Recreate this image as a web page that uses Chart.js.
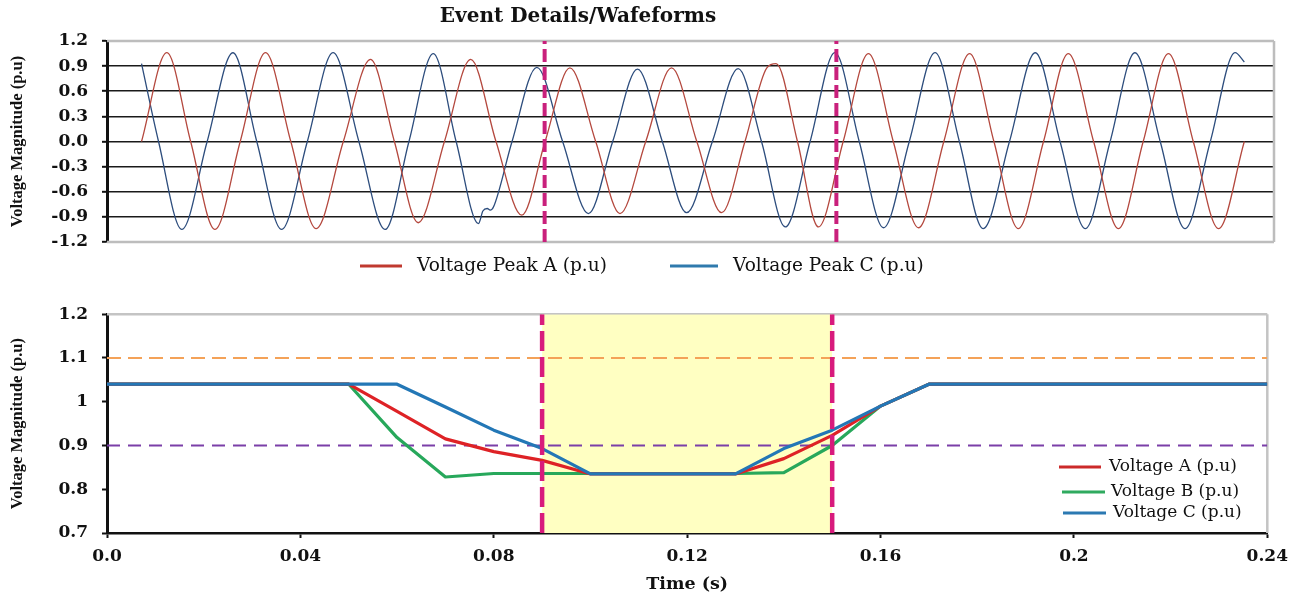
<!DOCTYPE html>
<html>
<head>
<meta charset="utf-8">
<title>Event Details/Wafeforms</title>
<script src="https://cdn.jsdelivr.net/npm/chart.js@4.4.1/dist/chart.umd.min.js"></script>
<style>
  html, body { margin: 0; padding: 0; background: #fff; }
  #wrap { position: relative; width: 1296px; height: 595px; overflow: hidden; }
  #wave { position: absolute; left: 0; top: 0; }
  #rms { position: absolute; left: 0; top: 290px; }
</style>
</head>
<body>
<div id="wrap">
  <canvas id="wave" width="1296" height="290"></canvas>
  <canvas id="rms" width="1296" height="305"></canvas>
</div>
<script>
// Instantaneous waveform, phase A: time (s) and voltage (p.u) at crests, troughs and zero crossings
const timeA = [0.0071, 0.0123, 0.0172, 0.0222, 0.0274, 0.0326, 0.0378, 0.0430, 0.0486, 0.0542,
  0.0591, 0.0640, 0.0694, 0.0748, 0.0800, 0.0853, 0.0901, 0.0952, 0.1005, 0.1055,
  0.1108, 0.1161, 0.1213, 0.1264, 0.1312, 0.1357, 0.1376, 0.1420, 0.1463, 0.1514,
  0.1566, 0.1617, 0.1669, 0.1721, 0.1774, 0.1824, 0.1874, 0.1926, 0.1977, 0.2029,
  0.2080, 0.2131, 0.2183, 0.2234, 0.2286, 0.2339];
const voltPeakA = [0, 1.06, 0, -1.05, 0, 1.06, 0, -1.04, 0, 0.98,
  0, -0.97, 0, 0.98, 0, -0.88, 0, 0.88, 0, -0.86,
  0, 0.88, 0, -0.85, 0, 0.88, 0.93, 0, -1.02, 0,
  1.05, 0, -1.03, 0, 1.05, 0, -1.04, 0, 1.05, 0,
  -1.04, 0, 1.05, 0, -1.04, 0];

// Instantaneous waveform, phase C
const timeC = [0.0071, 0.0106, 0.0154, 0.0206, 0.0259, 0.0308, 0.0359, 0.0412, 0.0465, 0.0518,
  0.0572, 0.0621, 0.0671, 0.0718, 0.0764, 0.0773, 0.0782, 0.0788, 0.0795, 0.0833,
  0.0884, 0.0937, 0.0990, 0.1040, 0.1091, 0.1142, 0.1192, 0.1245, 0.1298, 0.1346,
  0.1395, 0.1446, 0.1497, 0.1547, 0.1597, 0.1650, 0.1703, 0.1753, 0.1802, 0.1856,
  0.1909, 0.1960, 0.2012, 0.2063, 0.2114, 0.2166, 0.2217, 0.2269, 0.2320, 0.2339];
const voltPeakC = [0.93, 0, -1.05, 0, 1.06, 0, -1.05, 0, 1.06, 0,
  -1.05, 0, 1.05, 0, -0.98, -0.83, -0.80, -0.82, -0.78, 0,
  0.885, 0, -0.86, 0, 0.865, 0, -0.85, 0, 0.87, 0,
  -1.02, 0, 1.06, 0, -1.03, 0, 1.06, 0, -1.04, 0,
  1.06, 0, -1.04, 0, 1.06, 0, -1.04, 0, 1.06, 0.95];

// RMS magnitude per phase, one value every 10 ms
const rmsTime = [0, 0.01, 0.02, 0.03, 0.04, 0.05, 0.06, 0.07, 0.08, 0.09, 0.10, 0.11, 0.12,
  0.13, 0.14, 0.15, 0.16, 0.17, 0.18, 0.19, 0.20, 0.21, 0.22, 0.23, 0.24];
const voltA = [1.04, 1.04, 1.04, 1.04, 1.04, 1.04, 0.978, 0.915, 0.886, 0.866, 0.835, 0.835, 0.835,
  0.835, 0.870, 0.923, 0.990, 1.04, 1.04, 1.04, 1.04, 1.04, 1.04, 1.04, 1.04];
const voltB = [1.04, 1.04, 1.04, 1.04, 1.04, 1.04, 0.918, 0.828, 0.836, 0.836, 0.836, 0.836, 0.836,
  0.836, 0.838, 0.900, 0.990, 1.04, 1.04, 1.04, 1.04, 1.04, 1.04, 1.04, 1.04];
const voltC = [1.04, 1.04, 1.04, 1.04, 1.04, 1.04, 1.04, 0.988, 0.935, 0.893, 0.835, 0.835, 0.835,
  0.835, 0.893, 0.935, 0.990, 1.04, 1.04, 1.04, 1.04, 1.04, 1.04, 1.04, 1.04];

// Sag window and voltage tolerance band
const eventStart = 0.09;
const eventEnd = 0.15;
const limitHigh = 1.1;
const limitLow = 0.9;

const SERIF = '"DejaVu Serif", "Liberation Serif", serif';
const TIMES = '"Liberation Serif", "DejaVu Serif", serif';
const INK = '#111';

const pairs = (xs, ys) => xs.map((x, i) => ({ x: x, y: ys[i] }));
const hline = (y, x0, x1) => [{ x: x0, y: y }, { x: x1, y: y }];
const vline = (x, y0, y1) => [{ x: x, y: y0 }, { x: x, y: y1 }];

// grey frame on selected sides of the plot area
const framePlugin = {
  id: 'frame',
  beforeDatasetsDraw(chart, args, opts) {
    const a = chart.chartArea, ctx = chart.ctx;
    ctx.save();
    ctx.strokeStyle = opts.color;
    ctx.lineWidth = opts.width;
    ctx.beginPath();
    const sides = opts.sides || [];
    if (sides.includes('top')) { ctx.moveTo(a.left, a.top); ctx.lineTo(a.right, a.top); }
    if (sides.includes('right')) { ctx.moveTo(a.right, a.top); ctx.lineTo(a.right, a.bottom); }
    if (sides.includes('bottom')) { ctx.moveTo(a.left, a.bottom); ctx.lineTo(a.right, a.bottom); }
    ctx.stroke();
    ctx.restore();
  }
};

// heading text
const captionPlugin = {
  id: 'caption',
  afterDraw(chart, args, opts) {
    if (!opts.text) return;
    const ctx = chart.ctx;
    ctx.save();
    ctx.font = opts.font;
    ctx.fillStyle = opts.color;
    ctx.textAlign = 'center';
    ctx.textBaseline = 'middle';
    ctx.fillText(opts.text, opts.x, opts.y);
    ctx.restore();
  }
};

// series key: a short stroke followed by the dataset label
const keyPlugin = {
  id: 'key',
  afterDraw(chart, args, opts) {
    const ctx = chart.ctx;
    ctx.save();
    ctx.font = opts.font;
    ctx.textAlign = 'left';
    ctx.textBaseline = 'middle';
    (opts.items || []).forEach(it => {
      ctx.strokeStyle = it.color;
      ctx.lineWidth = opts.lineWidth;
      ctx.beginPath();
      ctx.moveTo(it.x0, it.y);
      ctx.lineTo(it.x1, it.y);
      ctx.stroke();
      ctx.fillStyle = INK;
      ctx.fillText(chart.data.datasets[it.dataset].label, it.tx, it.y);
    });
    ctx.restore();
  }
};

const common = {
  responsive: false,
  animation: false,
  devicePixelRatio: 1,
  events: [],
  elements: { point: { radius: 0 } }
};

// ---------- upper panel: waveforms ----------
new Chart(document.getElementById('wave'), {
  type: 'line',
  data: {
    datasets: [
      { label: 'Voltage Peak A (p.u)', data: pairs(timeA, voltPeakA), borderColor: '#b4483e',
        borderWidth: 1.3, cubicInterpolationMode: 'monotone', order: 2 },
      { label: 'Voltage Peak C (p.u)', data: pairs(timeC, voltPeakC), borderColor: '#2d4d7d',
        borderWidth: 1.3, cubicInterpolationMode: 'monotone', order: 3 },
      { label: 'start', data: vline(eventStart, -1.2, 1.2), borderColor: '#c9207c',
        borderWidth: 4, borderDash: [13, 5], order: 0 },
      { label: 'end', data: vline(eventEnd, -1.2, 1.2), borderColor: '#c9207c',
        borderWidth: 4, borderDash: [13, 5], order: 0 }
    ]
  },
  options: Object.assign({}, common, {
    layout: { padding: { top: 41, right: 22, bottom: 48, left: 0 } },
    scales: {
      x: { type: 'linear', min: 0, max: 0.24, display: false },
      y: {
        min: -1.2, max: 1.2,
        ticks: {
          stepSize: 0.3, padding: 14, color: INK,
          font: { family: SERIF, weight: 'bold', size: 17 },
          callback: v => (Math.abs(v) < 1e-9 ? 0 : v).toFixed(1)
        },
        grid: {
          color: c => Math.abs(Math.abs(c.tick.value) - 1.2) < 1e-6 ? 'rgba(0,0,0,0)' : '#1a1a1a',
          lineWidth: 1.6, tickLength: 5, tickColor: INK, tickWidth: 2
        },
        border: { color: INK, width: 3 },
        title: {
          display: true, text: 'Voltage Magnitude (p.u)', color: INK,
          font: { family: TIMES, weight: 'bold', size: 16.5 }, padding: { top: 8, bottom: 0 }
        },
        afterFit: s => { s.width = 107; }
      }
    },
    plugins: {
      legend: { display: false },
      tooltip: { enabled: false },
      frame: { color: '#bdbdbd', width: 2.5, sides: ['top', 'right', 'bottom'] },
      caption: { text: 'Event Details/Wafeforms', x: 578, y: 17, color: INK,
        font: 'bold 20px ' + SERIF },
      key: {
        font: '18.5px ' + SERIF, lineWidth: 3,
        items: [
          { dataset: 0, color: '#c0392f', x0: 360, x1: 402, y: 266, tx: 417 },
          { dataset: 1, color: '#2f7aad', x0: 670, x1: 718, y: 266, tx: 733 }
        ]
      }
    }
  }),
  plugins: [framePlugin, captionPlugin, keyPlugin]
});

// ---------- lower panel: RMS magnitudes ----------
new Chart(document.getElementById('rms'), {
  type: 'line',
  data: {
    datasets: [
      { label: 'sag window', data: hline(1.2, eventStart, eventEnd), fill: 'start',
        backgroundColor: '#ffffc2', borderWidth: 0, order: 10 },
      { label: 'upper limit', data: hline(limitHigh, 0, 0.24), borderColor: '#f4a258',
        borderWidth: 2, borderDash: [14, 7], order: 8 },
      { label: 'lower limit', data: hline(limitLow, 0, 0.24), borderColor: '#7b3fa8',
        borderWidth: 2, borderDash: [13, 8], order: 8 },
      { label: 'Voltage A (p.u)', data: pairs(rmsTime, voltA), borderColor: '#de2226',
        borderWidth: 3.2, borderJoinStyle: 'round', order: 5 },
      { label: 'Voltage B (p.u)', data: pairs(rmsTime, voltB), borderColor: '#27a85b',
        borderWidth: 3.2, borderJoinStyle: 'round', order: 6 },
      { label: 'Voltage C (p.u)', data: pairs(rmsTime, voltC), borderColor: '#2377b6',
        borderWidth: 3.2, borderJoinStyle: 'round', order: 4 },
      { label: 'start', data: vline(eventStart, 0.7, 1.2), borderColor: '#d81b7c',
        borderWidth: 4.5, borderDash: [20, 6], order: 1 },
      { label: 'end', data: vline(eventEnd, 0.7, 1.2), borderColor: '#d81b7c',
        borderWidth: 4.5, borderDash: [20, 6], order: 1 }
    ]
  },
  options: Object.assign({}, common, {
    layout: { padding: { top: 23, right: 20, bottom: 0, left: 0 } },
    scales: {
      x: {
        type: 'linear', min: 0, max: 0.24,
        ticks: {
          stepSize: 0.04, padding: 8, color: INK, maxRotation: 0, autoSkip: false,
          font: { family: SERIF, weight: 'bold', size: 17 },
          callback: v => Math.abs(v) < 1e-9 ? '0.0' : String(parseFloat(v.toFixed(2)))
        },
        grid: { drawOnChartArea: false, tickLength: 5, tickColor: INK, tickWidth: 2 },
        border: { color: INK, width: 2.5 },
        title: {
          display: true, text: 'Time (s)', color: INK,
          font: { family: SERIF, weight: 'bold', size: 17.5 }, padding: { top: 2, bottom: 0 }
        },
        afterFit: s => { s.height = 62; }
      },
      y: {
        min: 0.7, max: 1.2,
        ticks: {
          stepSize: 0.1, padding: 14, color: INK,
          font: { family: SERIF, weight: 'bold', size: 17 },
          callback: v => String(parseFloat(v.toFixed(1)))
        },
        grid: { drawOnChartArea: false, tickLength: 5, tickColor: INK, tickWidth: 2 },
        border: { color: INK, width: 3 },
        title: {
          display: true, text: 'Voltage Magnitude (p.u)', color: INK,
          font: { family: TIMES, weight: 'bold', size: 16.5 }, padding: { top: 8, bottom: 0 }
        },
        afterFit: s => { s.width = 107; }
      }
    },
    plugins: {
      legend: { display: false },
      tooltip: { enabled: false },
      frame: { color: '#c4c4c4', width: 2.5, sides: ['top', 'right'] },
      key: {
        font: '17px ' + SERIF, lineWidth: 3.2,
        items: [
          { dataset: 3, color: '#cc2a2a', x0: 1059, x1: 1101, y: 177, tx: 1109 },
          { dataset: 4, color: '#2faa5f', x0: 1062, x1: 1105, y: 202, tx: 1111 },
          { dataset: 5, color: '#2b79b2', x0: 1063, x1: 1106, y: 223, tx: 1113 }
        ]
      }
    }
  }),
  plugins: [framePlugin, keyPlugin]
});
</script>
</body>
</html>
